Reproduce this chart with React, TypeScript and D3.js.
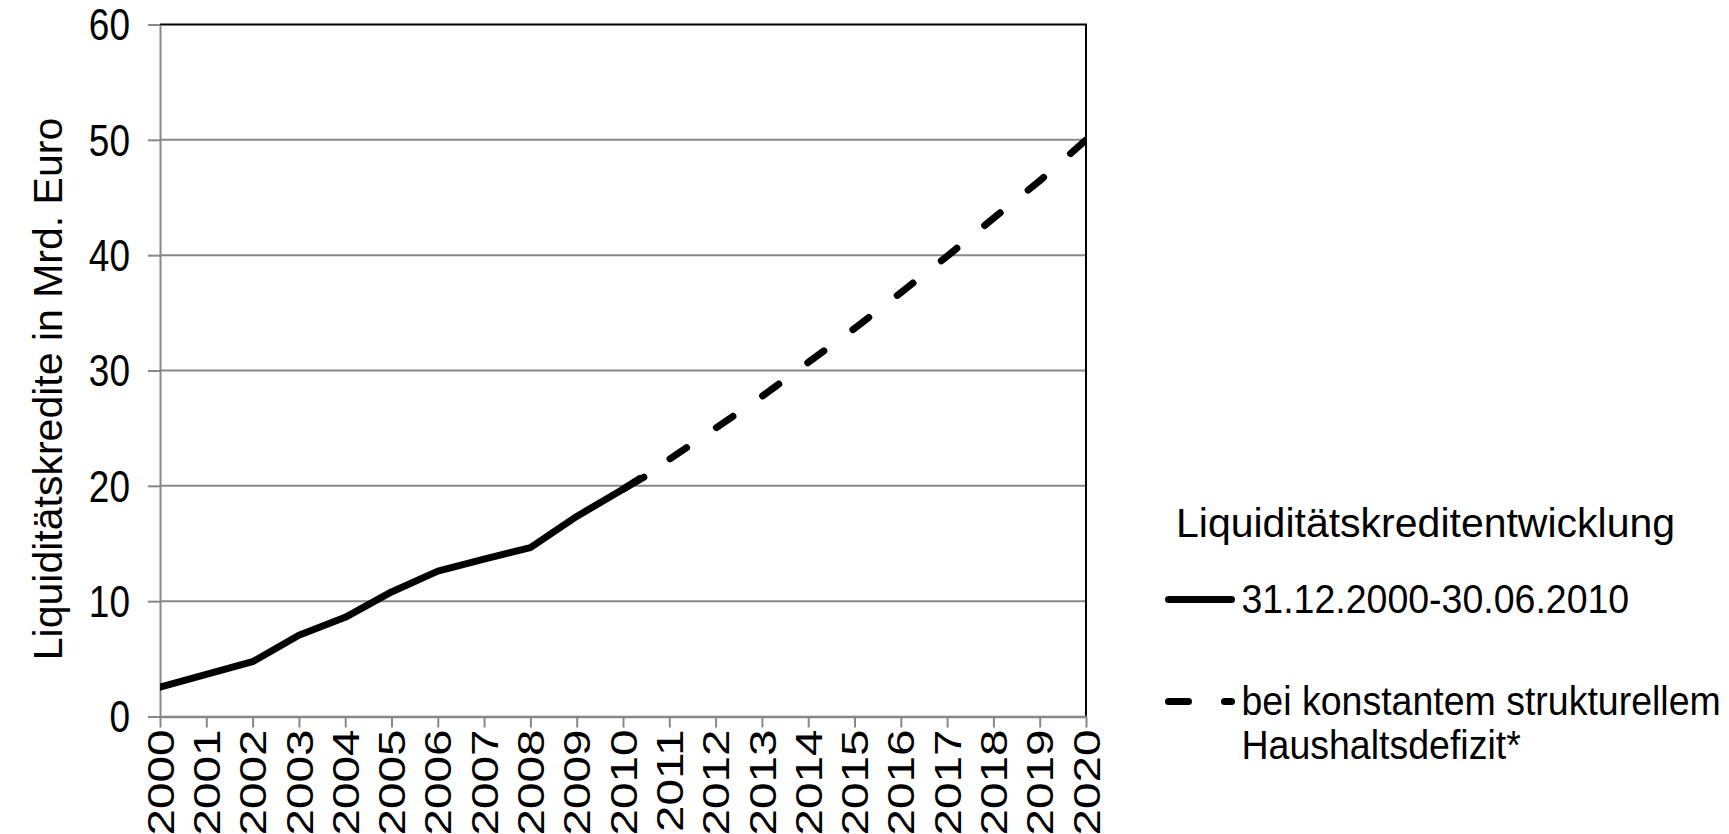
import React, { useEffect, useRef } from 'react';
import * as d3 from 'd3';

// tick labels on the x axis
const years = [
  2000, 2001, 2002, 2003, 2004, 2005, 2006, 2007, 2008, 2009, 2010,
  2011, 2012, 2013, 2014, 2015, 2016, 2017, 2018, 2019, 2020,
];
const yTicks = [0, 10, 20, 30, 40, 50, 60];

// 31.12.2000 - 30.06.2010 (Mrd. Euro)
const actualYears = [2000, 2001, 2002, 2003, 2004, 2005, 2006, 2007, 2008, 2009, 2010, 2010.45];
const actualValues = [2.55, 3.65, 4.75, 7.05, 8.6, 10.8, 12.6, 13.65, 14.65, 17.35, 19.7, 20.75];

// projection at constant structural deficit
const projYears = [2010, 2011, 2012, 2013, 2014, 2015, 2016, 2017, 2018, 2019, 2020];
const projValues = [19.7, 22.3, 25.0, 27.75, 30.7, 33.65, 36.75, 39.9, 43.2, 46.45, 50.0];

const yTitle = 'Liquiditätskredite in Mrd. Euro';
const legendTitle = 'Liquiditätskreditentwicklung';
const legendSolid = '31.12.2000-30.06.2010';
const legendDashed = ['bei konstantem strukturellem', 'Haushaltsdefizit*'];

const FONT = '"Liberation Sans", Arial, sans-serif';
const STRETCH = 1.18; // tick labels look taller than wide in the original
const X_STRETCH = 1.27; // rotated year labels run a bit longer
const LEGEND_STRETCH = 1.08;

const App = () => {
  const ref = useRef<SVGSVGElement>(null);

  useEffect(() => {
    const width = 1729;
    const height = 834;
    const margin = { top: 24.5, right: 643, bottom: 117.5, left: 160 };
    const grey = '#878787';

    const svg = d3.select(ref.current);
    svg.selectAll('*').remove();
    svg.attr('width', width).attr('height', height);

    const x = d3
      .scaleLinear()
      .domain([2000, 2020])
      .range([margin.left, width - margin.right]);
    const y = d3
      .scaleLinear()
      .domain([0, 60])
      .range([height - margin.bottom, margin.top]);

    svg
      .append('defs')
      .append('clipPath')
      .attr('id', 'plot-clip')
      .append('rect')
      .attr('x', x(2000))
      .attr('y', 0)
      .attr('width', x(2020) - x(2000))
      .attr('height', height);

    // gridlines
    svg
      .append('g')
      .selectAll('line')
      .data(yTicks.filter(d => d > 0 && d < 60))
      .enter()
      .append('line')
      .attr('x1', x(2000))
      .attr('x2', x(2020))
      .attr('y1', d => y(d))
      .attr('y2', d => y(d))
      .attr('stroke', grey)
      .attr('stroke-width', 2);

    // plot border (top + right in black)
    svg
      .append('path')
      .attr('d', `M${x(2000)},${y(60)}H${x(2020)}V${y(0)}`)
      .attr('fill', 'none')
      .attr('stroke', '#000')
      .attr('stroke-width', 2);

    // x axis
    const xAxis = svg
      .append('g')
      .attr('transform', `translate(0,${y(0)})`)
      .call(
        d3.axisBottom(x).tickValues(years).tickSize(11).tickSizeOuter(0).tickFormat(d3.format('d'))
      );
    xAxis.select('.domain').attr('stroke', grey).attr('stroke-width', 2.5);
    xAxis.selectAll('.tick line').attr('stroke', grey).attr('stroke-width', 2);
    xAxis
      .selectAll('.tick text')
      .attr('transform', `rotate(-90) scale(${X_STRETCH},1)`)
      .attr('x', -13 / X_STRETCH)
      .attr('y', 0)
      .attr('dy', '0.35em')
      .attr('text-anchor', 'end')
      .attr('fill', '#000')
      .style('font-family', FONT)
      .style('font-size', '37.5px');

    // y axis
    const yAxis = svg
      .append('g')
      .attr('transform', `translate(${x(2000)},0)`)
      .call(d3.axisLeft(y).tickValues(yTicks).tickSize(12).tickSizeOuter(0).tickPadding(18));
    yAxis.select('.domain').attr('stroke', grey).attr('stroke-width', 2);
    yAxis.selectAll('.tick line').attr('stroke', grey).attr('stroke-width', 2);
    yAxis
      .selectAll('.tick text')
      .attr('dy', '0.35em')
      .attr('transform', `scale(1,${STRETCH})`)
      .attr('fill', '#000')
      .style('font-family', FONT)
      .style('font-size', '37px');

    // y title
    svg
      .append('text')
      .attr('transform', `translate(62,389) rotate(-90)`)
      .attr('text-anchor', 'middle')
      .style('font-family', FONT)
      .style('font-size', '41px')
      .text(yTitle);

    // lines
    const line = d3.line<number>();

    const plot = svg.append('g').attr('clip-path', 'url(#plot-clip)');

    plot
      .append('path')
      .attr('d', line.x((_, i) => x(projYears[i])).y(d => y(d))(projValues))
      .attr('fill', 'none')
      .attr('stroke', '#000')
      .attr('stroke-width', 7)
      .attr('stroke-linecap', 'round')
      .attr('stroke-linejoin', 'round')
      .attr('stroke-dasharray', '20 36');

    plot
      .append('path')
      .attr('d', line.x((_, i) => x(actualYears[i])).y(d => y(d))(actualValues))
      .attr('fill', 'none')
      .attr('stroke', '#000')
      .attr('stroke-width', 7)
      .attr('stroke-linecap', 'round')
      .attr('stroke-linejoin', 'round');

    // legend
    const legend = svg.append('g').style('font-family', FONT);
    legend
      .append('text')
      .attr('x', 1176)
      .attr('y', 537)
      .style('font-size', '41px')
      .text(legendTitle);

    legend
      .append('line')
      .attr('x1', 1168.5)
      .attr('x2', 1231.5)
      .attr('y1', 599.5)
      .attr('y2', 599.5)
      .attr('stroke', '#000')
      .attr('stroke-width', 7)
      .attr('stroke-linecap', 'round');
    legend
      .append('text')
      .attr('transform', `translate(1241.5,613) scale(1,${LEGEND_STRETCH})`)
      .style('font-size', '37.5px')
      .text(legendSolid);

    legend
      .append('line')
      .attr('x1', 1168.5)
      .attr('x2', 1231.5)
      .attr('y1', 701.5)
      .attr('y2', 701.5)
      .attr('stroke', '#000')
      .attr('stroke-width', 7)
      .attr('stroke-linecap', 'round')
      .attr('stroke-dasharray', '20 36');

    // two-line entry kept in one text element
    const dashedText = legend
      .append('text')
      .attr('transform', `translate(1241.5,715) scale(1,${LEGEND_STRETCH})`)
      .style('font-size', '37.5px');
    dashedText
      .selectAll('tspan')
      .data(legendDashed)
      .enter()
      .append('tspan')
      .attr('x', 0)
      .attr('y', (_, i) => (i * 44) / LEGEND_STRETCH)
      .text(d => d);
  }, []);

  return (
    <div>
      <svg ref={ref} style={{ position: 'absolute', left: 0, top: 0, background: '#fff' }}></svg>
    </div>
  );
};

export default App;
